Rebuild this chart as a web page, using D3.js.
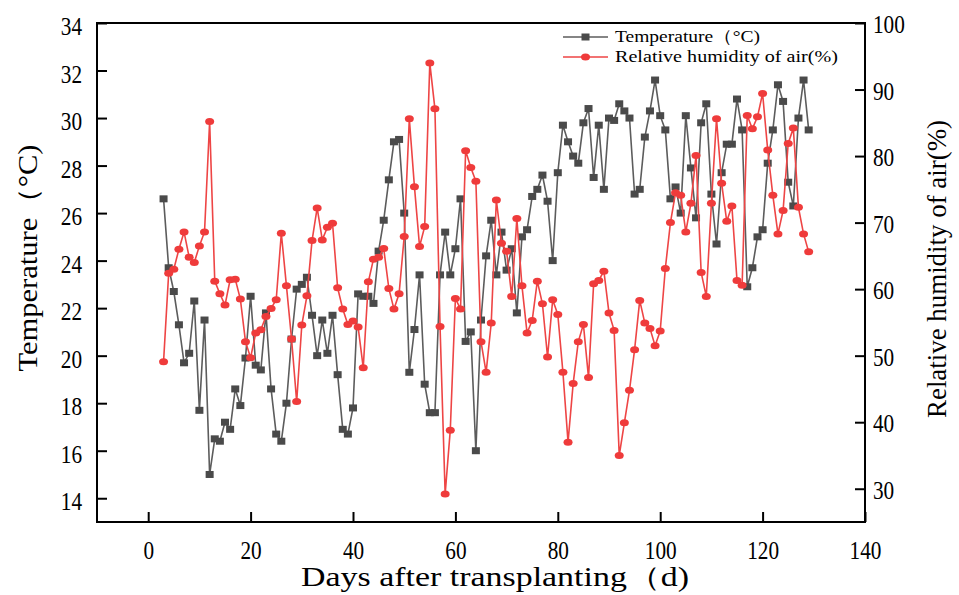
<!DOCTYPE html>
<html>
<head>
<meta charset="utf-8">
<script src="https://cdn.jsdelivr.net/npm/d3@7"></script>
<style>
  html, body { margin: 0; padding: 0; background: #fff; }
  svg { display: block; }
</style>
</head>
<body>
<script>
// days after transplanting (one reading per day)
const days = [3,4,5,6,7,8,9,10,11,12,13,14,15,16,17,18,19,20,21,22,23,24,25,26,27,28,29,30,31,32,
  33,34,35,36,37,38,39,40,41,42,43,44,45,46,47,48,49,50,51,52,53,54,55,56,57,58,59,60,61,62,
  63,64,65,66,67,68,69,70,71,72,73,74,75,76,77,78,79,80,81,82,83,84,85,86,87,88,89,90,91,92,
  93,94,95,96,97,98,99,100,101,102,103,104,105,106,107,108,109,110,111,112,113,114,115,116,117,118,119,120,121,122,
  123,124,125,126,127,128,129]

// air temperature (°C)
const temperature = [26.6,23.7,22.7,21.3,19.7,20.1,22.3,17.7,21.5,15.0,16.5,16.4,17.2,16.9,18.6,17.9,19.9,22.5,19.6,19.4,
  21.8,18.6,16.7,16.4,18.0,20.7,22.8,23.0,23.3,21.7,20.0,21.5,20.1,21.7,19.2,16.9,16.7,17.8,22.6,22.5,
  22.5,22.2,24.4,25.7,27.4,29.0,29.1,26.0,19.3,21.1,23.4,18.8,17.6,17.6,23.4,25.2,23.4,24.5,26.6,20.6,
  21.0,16.0,21.5,24.2,25.7,23.4,25.2,23.6,24.5,21.8,25.0,25.3,26.7,27.0,27.6,26.5,24.0,27.7,29.7,29.0,
  28.4,28.1,29.8,30.4,27.5,29.7,27.0,30.0,29.9,30.6,30.3,30.0,26.8,27.0,29.2,30.3,31.6,30.1,29.5,26.6,
  27.1,26.0,30.1,27.9,25.8,29.8,30.6,26.8,24.7,27.7,28.9,28.9,30.8,29.5,22.9,23.7,25.0,25.3,28.1,29.5,
  31.4,30.7,27.3,26.3,30.0,31.6,29.5]

// relative humidity of air (%)
const humidity = [49.1,62.4,63.0,66.0,68.6,64.8,64.0,66.5,68.6,85.2,61.2,59.3,57.6,61.4,61.5,58.5,52.1,49.7,53.4,53.9,
  55.9,57.1,58.4,68.4,60.5,52.5,43.1,54.6,59.0,67.3,72.2,67.4,69.3,69.9,60.2,57.0,54.7,55.2,54.3,48.2,
  61.1,64.5,64.8,66.1,60.1,57.0,59.3,67.9,85.6,75.4,66.4,69.4,94.0,87.1,54.4,29.2,38.8,58.6,57.0,80.8,
  78.3,76.2,52.1,47.5,54.9,73.4,66.9,65.7,58.9,70.6,60.5,53.4,55.3,61.2,57.8,49.8,58.4,56.2,47.5,37.0,
  45.8,52.1,54.7,46.7,60.8,61.3,62.7,56.4,53.8,35.0,39.9,44.8,50.9,58.3,54.9,54.1,51.5,53.7,63.1,70.0,
  74.5,74.1,68.6,72.9,80.1,62.5,58.9,72.9,85.6,75.9,70.2,72.5,61.3,60.6,86.1,84.1,85.9,89.4,80.9,74.1,
  68.3,71.8,81.9,84.2,72.3,68.3,65.6]

const xTicks = [0, 20, 40, 60, 80, 100, 120, 140]
const tTicks = [14, 16, 18, 20, 22, 24, 26, 28, 30, 32, 34]
const hTicks = [30, 40, 50, 60, 70, 80, 90, 100]

const width = 959, height = 595
const plotLeft = 97, plotRight = 865, plotTop = 23, plotBottom = 522
const serif = '"Liberation Serif", "Times New Roman", serif'
const grey = '#4a4a4a', greyLine = '#5c5c5c'
const red = '#ef3b3b', redLine = '#ee4545'

let svg = d3.select('body').append('svg')
  .attr('width', width)
  .attr('height', height)

let x = d3.scaleLinear().domain([-10, 140]).range([plotLeft, plotRight])
let yT = d3.scaleLinear().domain([13, 34]).range([plotBottom, plotTop])
let yH = d3.scaleLinear().domain([25, 100]).range([plotBottom, plotTop])

// axes, ticks point into the plot
let styleAxis = g => {
  g.select('.domain').remove()
  g.selectAll('.tick line').attr('stroke', '#000').attr('stroke-width', 2)
  g.selectAll('.tick text')
    .attr('x', null).attr('y', null).attr('dy', '0.35em')
    .attr('fill', '#000')
    .style('font-family', serif).style('font-size', '25px')
}

let gx = svg.append('g').attr('transform', `translate(0,${plotBottom})`)
  .call(d3.axisBottom(x).tickValues(xTicks).tickSize(-10).tickFormat(d3.format('d')))
styleAxis(gx)
gx.selectAll('.tick text').attr('text-anchor', 'middle').attr('transform', 'translate(0,28) scale(0.85,1)')

let gl = svg.append('g').attr('transform', `translate(${plotLeft},0)`)
  .call(d3.axisLeft(yT).tickValues(tTicks).tickSize(-10).tickFormat(d3.format('d')))
styleAxis(gl)
gl.selectAll('.tick text').attr('text-anchor', 'end').attr('transform', 'translate(-15,3) scale(0.85,1)')

let gr = svg.append('g').attr('transform', `translate(${plotRight},0)`)
  .call(d3.axisRight(yH).tickValues(hTicks).tickSize(-10).tickFormat(d3.format('d')))
styleAxis(gr)
gr.selectAll('.tick text').attr('text-anchor', 'start').attr('transform', 'translate(8,1) scale(0.85,1)')

// frame
svg.append('rect')
  .attr('x', plotLeft).attr('y', plotTop)
  .attr('width', plotRight - plotLeft).attr('height', plotBottom - plotTop)
  .attr('fill', 'none').attr('stroke', '#000').attr('stroke-width', 2)

// series
let tempData = days.map((d, i) => ({ day: d, v: temperature[i] }))
let humData = days.map((d, i) => ({ day: d, v: humidity[i] }))

let plot = svg.append('g').attr('id', 'series')

plot.append('path')
  .datum(tempData)
  .attr('fill', 'none').attr('stroke', greyLine).attr('stroke-width', 1.6)
  .attr('d', d3.line().x(d => x(d.day)).y(d => yT(d.v)))

plot.selectAll('rect.temp').data(tempData).join('rect')
  .attr('class', 'temp')
  .attr('x', d => x(d.day) - 4).attr('y', d => yT(d.v) - 3.5)
  .attr('width', 8).attr('height', 7)
  .attr('fill', grey)

plot.append('path')
  .datum(humData)
  .attr('fill', 'none').attr('stroke', redLine).attr('stroke-width', 1.6)
  .attr('d', d3.line().x(d => x(d.day)).y(d => yH(d.v)))

plot.selectAll('ellipse.hum').data(humData).join('ellipse')
  .attr('class', 'hum')
  .attr('cx', d => x(d.day)).attr('cy', d => yH(d.v))
  .attr('rx', 4.5).attr('ry', 3.5)
  .attr('fill', red)

// legend
let legend = svg.append('g').attr('id', 'legend')
let legendItems = [
  { label: 'Temperature（°C)', y: 37, len: 145, line: greyLine, fill: grey, shape: 'rect' },
  { label: 'Relative humidity of air(%)', y: 57, len: 223, line: redLine, fill: red, shape: 'ellipse' }
]
legendItems.forEach(it => {
  legend.append('line')
    .attr('x1', 563).attr('x2', 608).attr('y1', it.y).attr('y2', it.y)
    .attr('stroke', it.line).attr('stroke-width', 1.6)
  if (it.shape === 'rect') {
    legend.append('rect').attr('x', 581.5).attr('y', it.y - 3.5).attr('width', 8).attr('height', 7).attr('fill', it.fill)
  } else {
    legend.append('ellipse').attr('cx', 585.5).attr('cy', it.y).attr('rx', 4.5).attr('ry', 3.5).attr('fill', it.fill)
  }
  legend.append('text')
    .attr('x', 615).attr('y', it.y + 5)
    .attr('textLength', it.len).attr('lengthAdjust', 'spacingAndGlyphs')
    .style('font-family', serif).style('font-size', '17px')
    .text(it.label)
})

// axis titles
svg.append('text')
  .attr('x', 495).attr('y', 586)
  .attr('text-anchor', 'middle')
  .attr('textLength', 388).attr('lengthAdjust', 'spacingAndGlyphs')
  .style('font-family', serif).style('font-size', '27px')
  .text('Days after transplanting（d)')

svg.append('text')
  .attr('transform', 'translate(37,258) rotate(-90)')
  .attr('text-anchor', 'middle')
  .attr('textLength', 227).attr('lengthAdjust', 'spacingAndGlyphs')
  .style('font-family', serif).style('font-size', '27px')
  .text('Temperature（°C)')

svg.append('text')
  .attr('transform', 'translate(946,269) rotate(-90)')
  .attr('text-anchor', 'middle')
  .attr('textLength', 298).attr('lengthAdjust', 'spacingAndGlyphs')
  .style('font-family', serif).style('font-size', '27px')
  .text('Relative humidity of air(%)')
</script>
</body>
</html>
